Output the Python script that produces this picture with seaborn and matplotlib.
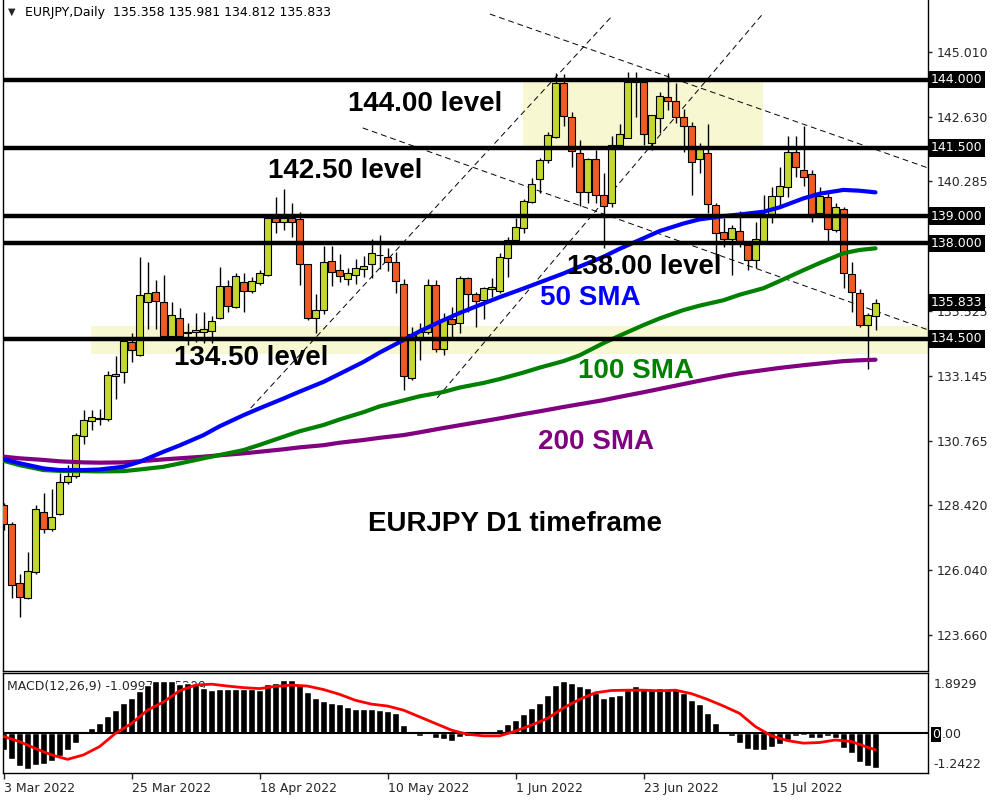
import numpy as np
import pandas as pd
import matplotlib
matplotlib.use("Agg")
import matplotlib.pyplot as plt
import matplotlib.transforms as mtransforms
import seaborn as sns

sns.set_style("white")
plt.rcParams['font.family'] = ['DejaVu Sans']

# EURJPY daily candles, 3 Mar 2022 onwards
opens = [128.42, 127.71, 125.55, 125.00, 125.97, 128.15, 127.53, 128.08, 129.25, 129.47,
         130.93, 131.48, 131.58, 131.56, 133.14, 133.28, 134.40, 133.90, 135.84, 136.21,
         135.86, 134.62, 135.28, 134.73, 134.75, 134.77, 134.80, 135.27, 136.43, 135.68,
         136.57, 136.27, 136.54, 136.83, 138.92, 138.77, 138.92, 138.88, 137.23, 135.28,
         135.55, 137.35, 137.02, 136.68, 136.84, 137.05, 137.25, 137.57, 137.51, 137.31,
         136.50, 133.06, 134.53, 134.75, 136.46, 134.13, 135.23, 135.07, 136.72, 136.14,
         135.93, 136.32, 136.27, 137.45, 138.11, 138.55, 139.53, 140.35, 141.05, 141.89,
         143.86, 142.62, 141.30, 139.87, 141.09, 139.76, 139.47, 141.60, 141.87, 143.91,
         143.92, 141.67, 142.58, 143.37, 143.20, 142.62, 142.30, 141.08, 141.30, 139.39,
         138.41, 138.17, 138.46, 137.93, 137.39, 138.09, 139.08, 139.74, 140.05, 141.34,
         140.69, 140.53, 139.10, 139.71, 138.49, 139.27, 136.87, 136.17, 135.01, 135.358]
highs = [128.50, 127.78, 125.91, 126.71, 128.42, 128.87, 128.99, 129.58, 129.88, 131.04,
         131.90, 131.90, 131.93, 133.31, 133.87, 134.58, 134.71, 137.51, 137.31, 136.66,
         136.85, 135.84, 135.64, 135.09, 135.44, 135.48, 135.34, 137.12, 136.66, 136.90,
         136.90, 136.78, 137.02, 138.95, 139.69, 139.99, 139.47, 139.16, 137.25, 136.14,
         137.90, 137.90, 137.61, 137.09, 137.42, 137.54, 138.16, 138.31, 137.84, 137.68,
         136.69, 134.95, 135.07, 136.69, 136.66, 135.44, 135.68, 136.80, 136.78, 136.21,
         136.39, 136.72, 137.66, 138.22, 138.92, 139.61, 140.38, 141.12, 142.07, 144.25,
         144.20, 142.80, 141.79, 141.14, 141.42, 140.57, 141.93, 142.36, 144.27, 144.27,
         144.00, 142.72, 143.53, 144.23, 143.89, 142.91, 142.46, 141.67, 142.37, 139.49,
         138.92, 138.67, 139.19, 138.06, 138.77, 139.77, 140.08, 140.79, 141.93, 141.93,
         142.30, 140.69, 140.08, 139.83, 139.49, 139.34, 137.33, 136.32, 135.44, 135.981]
lows = [127.50, 125.00, 124.33, 124.98, 125.89, 127.38, 127.48, 128.05, 129.20, 129.40,
        130.66, 131.15, 131.34, 131.50, 132.29, 132.90, 133.67, 133.88, 134.86, 134.85,
        134.60, 134.60, 134.55, 134.28, 134.40, 134.36, 134.34, 135.25, 135.50, 135.62,
        135.47, 136.17, 136.48, 136.80, 138.37, 138.49, 138.24, 136.48, 135.20, 134.73,
        135.40, 136.45, 136.60, 136.48, 136.51, 136.78, 136.72, 137.05, 136.99, 136.17,
        132.63, 133.00, 133.73, 134.70, 134.03, 133.91, 134.58, 134.73, 135.50, 134.95,
        135.22, 136.05, 136.20, 136.78, 138.10, 138.37, 139.47, 139.86, 140.96, 141.85,
        142.31, 140.79, 139.38, 139.47, 139.47, 137.82, 139.34, 141.57, 141.85, 142.64,
        141.60, 141.42, 142.03, 142.89, 142.40, 141.36, 139.77, 140.57, 139.10, 137.51,
        137.88, 136.84, 137.88, 137.02, 137.09, 138.05, 138.73, 139.34, 139.69, 140.42,
        140.11, 138.77, 139.00, 138.06, 138.43, 136.35, 135.50, 134.95, 133.39, 134.812]
closes = [127.72, 125.48, 125.06, 125.99, 128.26, 127.53, 127.97, 129.25, 129.47, 130.97,
          131.52, 131.63, 131.62, 133.17, 133.22, 134.43, 134.08, 136.10, 136.17, 135.90,
          134.62, 135.37, 134.62, 134.74, 134.84, 134.85, 135.15, 136.43, 135.71, 136.79,
          136.27, 136.61, 136.90, 138.94, 138.77, 138.92, 138.80, 137.23, 135.28, 135.55,
          137.32, 136.94, 136.80, 136.90, 137.09, 137.16, 137.64, 137.58, 137.32, 136.62,
          133.14, 134.68, 134.75, 136.46, 134.13, 135.19, 135.04, 136.72, 136.14, 135.88,
          136.35, 136.39, 137.49, 138.11, 138.61, 139.54, 140.16, 141.05, 141.96, 143.86,
          142.67, 141.38, 139.87, 141.09, 139.76, 139.38, 141.60, 141.99, 143.92, 144.02,
          142.01, 142.70, 143.40, 143.20, 142.64, 142.30, 140.99, 141.45, 139.44, 138.37,
          138.15, 138.57, 138.05, 137.39, 138.17, 138.98, 139.74, 140.10, 141.36, 140.79,
          140.44, 139.08, 139.74, 138.52, 139.32, 136.90, 136.21, 135.01, 135.38, 135.833]

# moving averages, every few bars
sma_idx = [0, 2, 5, 7, 10, 12, 15, 17, 20, 22, 25, 27, 30, 32, 35, 37, 40, 42, 45, 47, 50, 52,
           55, 57, 60, 62, 65, 67, 70, 72, 75, 77, 80, 82, 85, 87, 90, 92, 95, 97, 100, 102,
           105, 107, 109]
sma50 = [130.10, 129.95, 129.76, 129.70, 129.70, 129.72, 129.82, 130.00, 130.37, 130.60,
         130.98, 131.30, 131.71, 131.96, 132.32, 132.57, 132.93, 133.22, 133.66, 134.00,
         134.46, 134.78, 135.19, 135.45, 135.80, 136.03, 136.35, 136.57, 136.90, 137.15,
         137.51, 137.80, 138.19, 138.45, 138.73, 138.88, 139.00, 139.06, 139.16, 139.32,
         139.65, 139.82, 139.96, 139.93, 139.87]
sma100 = [130.04, 129.88, 129.70, 129.67, 129.66, 129.65, 129.66, 129.72, 129.82, 129.94,
          130.13, 130.25, 130.43, 130.62, 130.92, 131.12, 131.35, 131.55, 131.82, 132.03,
          132.25, 132.40, 132.56, 132.72, 132.89, 133.03, 133.27, 133.45, 133.69, 133.90,
          134.35, 134.62, 135.01, 135.25, 135.56, 135.72, 135.92, 136.12, 136.36, 136.62,
          137.02, 137.28, 137.64, 137.76, 137.82]
sma200 = [130.19, 130.13, 130.07, 130.02, 129.98, 129.97, 129.98, 130.02, 130.09, 130.13,
          130.19, 130.24, 130.31, 130.37, 130.46, 130.53, 130.61, 130.70, 130.80, 130.88,
          130.98, 131.08, 131.24, 131.34, 131.49, 131.59, 131.75, 131.85, 132.01, 132.11,
          132.26, 132.38, 132.55, 132.67, 132.85, 132.97, 133.14, 133.24, 133.36, 133.44,
          133.54, 133.60, 133.69, 133.72, 133.74]

# MACD(12,26,9) main histogram and signal line
macd_main = [-0.54, -0.80, -1.04, -1.12, -0.99, -0.96, -0.86, -0.71, -0.54, -0.29,
             -0.03, 0.16, 0.33, 0.54, 0.73, 0.97, 1.11, 1.34, 1.52, 1.65,
             1.64, 1.64, 1.55, 1.59, 1.55, 1.44, 1.36, 1.41, 1.39, 1.39,
             1.39, 1.39, 1.38, 1.54, 1.60, 1.69, 1.69, 1.55, 1.31, 1.10,
             1.03, 0.97, 0.91, 0.82, 0.76, 0.76, 0.76, 0.73, 0.71, 0.63,
             0.26, 0.07, -0.07, -0.02, -0.16, -0.19, -0.23, -0.13, -0.08, -0.05,
             0.00, 0.04, 0.13, 0.29, 0.42, 0.61, 0.80, 0.97, 1.20, 1.52,
             1.65, 1.60, 1.50, 1.44, 1.28, 1.10, 1.17, 1.20, 1.36, 1.48,
             1.44, 1.41, 1.44, 1.39, 1.39, 1.28, 1.05, 0.92, 0.63, 0.34,
             0.07, -0.10, -0.29, -0.49, -0.54, -0.52, -0.44, -0.33, -0.21, -0.10,
             -0.05, -0.14, -0.14, -0.10, -0.16, -0.45, -0.63, -0.89, -1.04, -1.10]
sig_idx = list(range(0, 110, 2)) + [109]
sig_val = [-0.10, -0.26, -0.48, -0.68, -0.82, -0.68, -0.42, 0.00, 0.31, 0.73,
           0.99, 1.34, 1.52, 1.55, 1.49, 1.44, 1.41, 1.48, 1.52, 1.49,
           1.38, 1.23, 1.04, 0.92, 0.86, 0.73, 0.52, 0.31, 0.10, -0.03,
           -0.08, -0.08, 0.07, 0.26, 0.47, 0.80, 1.07, 1.28, 1.35, 1.36,
           1.36, 1.34, 1.36, 1.25, 1.07, 0.86, 0.63, 0.21, -0.08, -0.23,
           -0.31, -0.29, -0.21, -0.26, -0.44, -0.52]

levels = [144.0, 141.5, 139.0, 138.0, 134.5]
last_close = 135.833
price_ticks = [145.010, 142.630, 140.285, 135.525, 133.145, 130.765, 128.420, 126.040, 123.660]
date_ticks = [0, 16, 32, 48, 64, 80, 96]
date_labels = ['3 Mar 2022', '25 Mar 2022', '18 Apr 2022', '10 May 2022',
               '1 Jun 2022', '23 Jun 2022', '15 Jul 2022']

df = pd.DataFrame({'open': opens, 'high': highs, 'low': lows, 'close': closes})
df['idx'] = np.arange(len(df))
df['bull'] = df['close'] >= df['open']

bull_col = '#C4D630'
bear_col = '#F15A24'
zone_col = '#F7F7D2'

fig = plt.figure(figsize=(10, 8), dpi=100)
ax = fig.add_axes([0.0027, 0.16125, 0.9256, 0.83875])
axm = fig.add_axes([0.0027, 0.0341, 0.9256, 0.1243])

# --- price panel ---
ax.fill_between([64.9, 94.9], 141.5, 144.0, color=zone_col, lw=0, zorder=1)
ax.fill_between([10.9, 116], 133.95, 134.97, color=zone_col, lw=0, zorder=1)

dash = (0, (6, 4))
for (x0, y0), (x1, y1) in [((60.8, 146.40), (115.6, 140.76)),
                           ((44.9, 142.23), (115.6, 134.83)),
                           ((30.9, 131.97), (76.2, 146.37)),
                           ((54.2, 132.34), (94.8, 146.37))]:
    ax.plot([x0, x1], [y0, y1], color='black', lw=0.7, ls=dash, zorder=1.5)

ax.vlines(df['idx'], df['low'], df['high'], color='black', lw=1, zorder=2)
body_bottom = df[['open', 'close']].min(axis=1)
body_height = (df['close'] - df['open']).abs().clip(lower=0.02)
ax.bar(df['idx'], body_height, bottom=body_bottom, width=0.8,
       color=np.where(df['bull'], bull_col, bear_col), edgecolor='black', linewidth=0.8, zorder=3)

sns.lineplot(x=sma_idx, y=sma200, ax=ax, color='#800080', lw=3, zorder=4)
sns.lineplot(x=sma_idx, y=sma100, ax=ax, color='#008000', lw=3, zorder=4)
sns.lineplot(x=sma_idx, y=sma50, ax=ax, color='#0000FF', lw=3, zorder=4)

for lv in levels:
    ax.axhline(lv, color='black', lw=3.2, zorder=5)

ax.set_xlim(-0.1, 115.6)
ax.set_ylim(122.34, 146.915)
ax.yaxis.tick_right()
ax.set_yticks(price_ticks)
ax.set_yticklabels([f"{v:.3f}" for v in price_ticks])
ax.tick_params(axis='y', direction='out', length=3, width=1, labelsize=9, pad=3, right=True, left=False)
ax.set_xticks([])
for s in ['left', 'right', 'bottom']:
    ax.spines[s].set_color('black')
    ax.spines[s].set_linewidth(1)
ax.spines['top'].set_visible(False)

trans = mtransforms.blended_transform_factory(ax.transAxes, ax.transData)
for lv in levels + [last_close]:
    ax.text(1.003, lv, f"{lv:.3f}", transform=trans, color='white', fontsize=9,
            va='center', ha='left', zorder=10, clip_on=False,
            bbox=dict(facecolor='black', edgecolor='none', pad=1.6))

bold = dict(family=['Liberation Sans', 'DejaVu Sans'], fontweight='bold', fontsize=20, va='center', ha='left', zorder=6)
ax.text(43.1, 143.11, '144.00 level', color='black', **bold)
ax.text(33.0, 140.65, '142.50 level', color='black', **bold)
ax.text(70.4, 137.13, '138.00 level', color='black', **bold)
ax.text(21.25, 133.80, '134.50 level', color='black', **bold)
ax.text(67.0, 136.0, '50 SMA', color='#0000FF', **bold)
ax.text(71.75, 133.33, '100 SMA', color='#008000', **bold)
ax.text(66.75, 130.72, '200 SMA', color='#800080', **bold)
ax.text(45.6, 127.72, 'EURJPY D1 timeframe', color='black', **bold)

ax.text(0.006, 0.982, '\u25BC', transform=ax.transAxes, fontsize=7, va='center', ha='left')
ax.text(0.024, 0.982, 'EURJPY,Daily  135.358 135.981 134.812 135.833', transform=ax.transAxes,
        fontsize=9, va='center', ha='left', color='black')

# --- MACD panel ---
axm.text(0.005, 0.872, 'MACD(12,26,9) -1.0997 -0.5209', transform=axm.transAxes,
         fontsize=9, va='center', ha='left', zorder=1)
axm.bar(np.arange(len(macd_main)), macd_main, width=0.85, color='black', zorder=2)
axm.axhline(0, color='black', lw=1.5, zorder=2.5)
sns.lineplot(x=sig_idx, y=sig_val, ax=axm, color='#FF0000', lw=2, zorder=3)
axm.set_xlim(-0.1, 115.6)
axm.set_ylim(-1.2422, 1.8929)
axm.set_yticks([])
axm.set_xticks(date_ticks)
axm.set_xticklabels(date_labels, ha='left')
axm.tick_params(axis='x', direction='out', length=4, width=1, labelsize=9, pad=3, bottom=True)
for s in axm.spines.values():
    s.set_color('black')
    s.set_linewidth(1)

axm.text(1.006, 0.89, '1.8929', transform=axm.transAxes, fontsize=9, va='center', ha='left', clip_on=False)
axm.text(1.006, 0.085, '-1.2422', transform=axm.transAxes, fontsize=9, va='center', ha='left', clip_on=False)
axm.text(1.004, 0.385, '0', transform=axm.transAxes, fontsize=9, va='center', ha='left', clip_on=False,
         color='white', bbox=dict(facecolor='black', edgecolor='none', pad=1.0))
axm.text(1.0148, 0.385, '.00', transform=axm.transAxes, fontsize=9, va='center', ha='left', clip_on=False)

fig.savefig('out.png', dpi=100)
